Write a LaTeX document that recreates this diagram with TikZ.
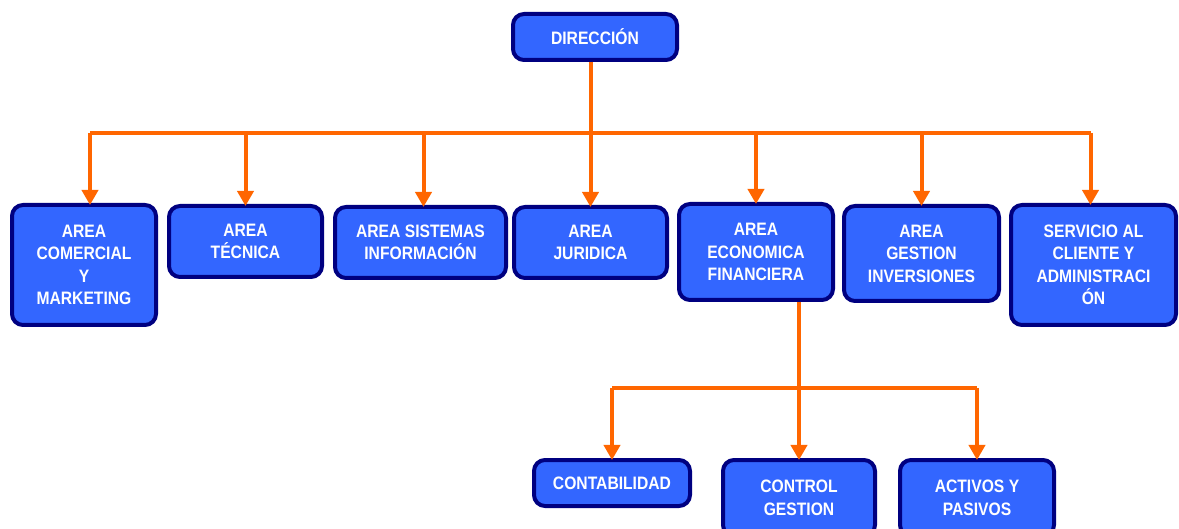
\documentclass[tikz,border=0pt]{standalone}
\usepackage{fontspec}
\usepackage{tikz}
\usetikzlibrary{arrows.meta}
\usetikzlibrary{calc}
\newfontfamily\boxfont{Liberation Sans}[FakeStretch=0.87]
\definecolor{boxblue}{HTML}{3366FF}
\definecolor{boxnavy}{HTML}{000080}
\definecolor{lineorange}{HTML}{FF6600}

\begin{document}
\begin{tikzpicture}[x=1pt,y=-1pt,
        area/.style={draw=boxnavy, line width=4pt, fill=boxblue, rounded corners=11pt,
            text=white, align=center, inner sep=0pt,
            font=\boxfont\bfseries\fontsize{18}{22.5}\selectfont},
        link/.style={draw=lineorange, line width=4pt},
        arr/.style={link, -{Triangle[width=16pt,length=15pt]}, shorten >=-2pt}]
                \clip (0,0) rectangle (1179,529);
                \node[area, minimum width=164pt, minimum height=46pt] (dir) at (595,37) {DIRECCIÓN};
                \node[area, minimum width=144pt, minimum height=120pt] (com) at (84,265) {AREA\\COMERCIAL\\Y\\MARKETING};
                \node[area, minimum width=153pt, minimum height=71pt] (tec) at (245.5,241.5) {AREA\\TÉCNICA};
                \node[area, minimum width=171pt, minimum height=71pt] (sis) at (420.5,242.5) {AREA SISTEMAS\\INFORMACIÓN};
                \node[area, minimum width=153pt, minimum height=71pt] (jur) at (590.5,242.5) {AREA\\JURIDICA};
                \node[area, minimum width=154pt, minimum height=96pt] (eco) at (756,252) {AREA\\ECONOMICA\\FINANCIERA};
                \node[area, minimum width=155pt, minimum height=95pt] (ges) at (921.5,253.5) {AREA\\GESTION\\INVERSIONES};
                \node[area, minimum width=165pt, minimum height=120pt] (ser) at (1093.5,265) {SERVICIO AL\\CLIENTE Y\\ADMINISTRACI\\ÓN};
                \node[area, minimum width=156pt, minimum height=46pt] (con) at (612,483) {CONTABILIDAD};
                \node[area, minimum width=152pt, minimum height=76pt] (ctl) at (799,498) {CONTROL\\GESTION};
                \node[area, minimum width=154pt, minimum height=76pt] (act) at (977,498) {ACTIVOS Y\\PASIVOS};
                \coordinate (bus) at (0,133);
                \coordinate (sub) at (0,388);
                \draw[link] (jur.north |- dir.south) -- (jur.north |- bus);
                \draw[link] ($(com.north |- bus)+(6,0)$) -- ($(ser.north |- bus)+(-3,0)$);
                \foreach \n/\dx in {com/6,tec/0,sis/3,jur/0,eco/0,ges/0,ser/-3}
                    \draw[arr] ($(\n.north |- bus)+(\dx,0)$) -- ($(\n.north)+(\dx,0)$);
                \draw[link] (eco.south -| ctl.north) -- (ctl.north |- sub);
                \draw[link] (con.north |- sub) -- (act.north |- sub);
                \foreach \n in {con,ctl,act}
                    \draw[arr] (\n.north |- sub) -- (\n.north);
            \end{tikzpicture}
\end{document}
